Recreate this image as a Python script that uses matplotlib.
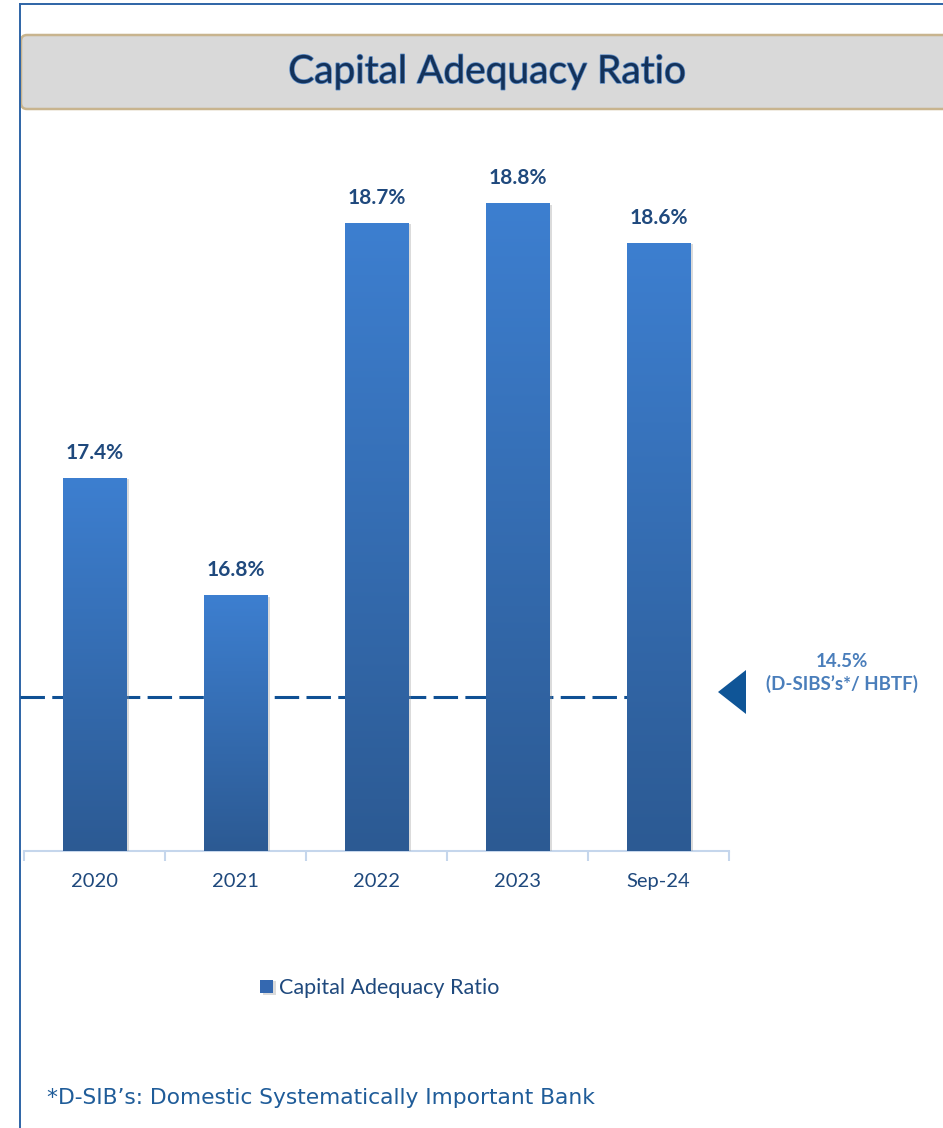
import numpy as np
import matplotlib.pyplot as plt
from matplotlib.patches import FancyBboxPatch, Polygon
from matplotlib.colors import LinearSegmentedColormap
import matplotlib.patheffects as pe

plt.rcParams['font.family'] = ['Lato', 'DejaVu Sans']

# data
categories = ['2020', '2021', '2022', '2023', 'Sep-24']
car_values = [17.4, 16.8, 18.7, 18.8, 18.6]
car_labels = ['17.4%', '16.8%', '18.7%', '18.8%', '18.6%']
threshold = 14.5
threshold_label = '14.5%\n(D-SIBS\u2019s*/ HBTF)'
footnote = '*D-SIB\u2019s: Domestic Systematically Important Bank'

W, H = 943, 1128
fig = plt.figure(figsize=(W / 100, H / 100), dpi=100)

# page decorations in pixel coordinates
deco = fig.add_axes([0, 0, 1, 1], zorder=0)
deco.set_xlim(0, W)
deco.set_ylim(H, 0)
deco.axis('off')
deco.plot([20, 20], [4, H], color='#2E64A6', lw=1.4)
deco.plot([20, W], [4, 4], color='#2E64A6', lw=1.4)
deco.add_patch(FancyBboxPatch((21, 35), 960, 74, boxstyle='round,pad=0,rounding_size=6',
                              fc='#D9D9D9', ec='#C8B48E', lw=1.8))
deco.text(487, 72, 'Capital Adequacy Ratio', ha='center', va='center', fontsize=28,
          color='#14325A',
          path_effects=[pe.withStroke(linewidth=1.1, foreground='#5A8BC6')])
deco.text(47, 1098, footnote, ha='left', va='center', fontsize=15.7,
          color='#1F5C99', family='DejaVu Sans')

# main bar chart
ax_l, ax_r, ax_t, ax_b = 24, 729, 140, 851
rect = [ax_l / W, 1 - ax_b / H, (ax_r - ax_l) / W, (ax_b - ax_t) / H]
ax = fig.add_axes(rect, zorder=2)
ax.patch.set_visible(False)
x = np.arange(len(categories))
bars = ax.bar(x, car_values, width=0.45, color='#3468B0', zorder=3,
              label='Capital Adequacy Ratio')
ax.set_xlim(-0.5, len(categories) - 0.5)
ax.set_ylim(15.495, 19.124)

# soft shadow to the right of each bar
for b in bars:
    b.set_path_effects([pe.SimplePatchShadow(offset=(2, -1), shadow_rgbFace='#9A9A9A',
                                             alpha=0.35), pe.Normal()])

cmap = LinearSegmentedColormap.from_list('barfade', ['#2C5A93', '#3D7FD0'])
grad = np.linspace(0, 1, 256).reshape(-1, 1)
for b in bars:
    bx, by, bw, bh = b.get_x(), b.get_y(), b.get_width(), b.get_height()
    im = ax.imshow(grad, cmap=cmap, origin='lower', aspect='auto',
                   extent=[bx, bx + bw, ax.get_ylim()[0], by + bh], zorder=4)
    im.set_clip_path(b)

for xi, v, lab in zip(x, car_values, car_labels):
    ax.annotate(lab, (xi, v), xytext=(0, 18), textcoords='offset points',
                ha='center', va='center', fontsize=15, fontweight='bold',
                color='#1F497D')

for s in ['top', 'right', 'left']:
    ax.spines[s].set_visible(False)
ax.spines['bottom'].set_color('#C5D6EC')
ax.spines['bottom'].set_linewidth(1.5)
ax.set_yticks([])
ax.set_xticks(np.arange(len(categories) + 1) - 0.5, minor=False)
ax.set_xticklabels([])
ax.tick_params(axis='x', length=7, width=1.5, color='#C5D6EC')
ax.set_xticks(x, minor=True)
ax.set_xticklabels(categories, minor=True)
ax.tick_params(axis='x', which='minor', length=0, pad=16, labelsize=14.5,
               labelcolor='#1F497D')
ax.set_ylim(15.495, 19.124)

# regulatory minimum on its own scale, behind the bars
tw = ax.twinx()
tw.set_zorder(1)
tw.set_ylim(0, threshold / (154 / (ax_b - ax_t)))
tw.axis('off')
tw.hlines(threshold, -0.53, 3.775, colors='#0F5094', linestyles=(0, (8, 2.4)),
          lw=2.2, clip_on=False)

deco.add_patch(Polygon([[718, 692], [746, 670], [746, 714]], closed=True,
                       fc='#0F5597', ec='none'))
deco.text(842, 673, threshold_label, ha='center', va='center', fontsize=13.5,
          fontweight='bold', color='#4A7EBB', linespacing=1.3)

leg = ax.legend(loc='center', bbox_to_anchor=((380 - ax_l) / (ax_r - ax_l),
                (ax_b - 988) / (ax_b - ax_t)), frameon=False, fontsize=15.5,
                handlelength=0.6, handleheight=0.6, handletextpad=0.3)
for t in leg.get_texts():
    t.set_color('#1F497D')

fig.savefig('out.png', dpi=100)
